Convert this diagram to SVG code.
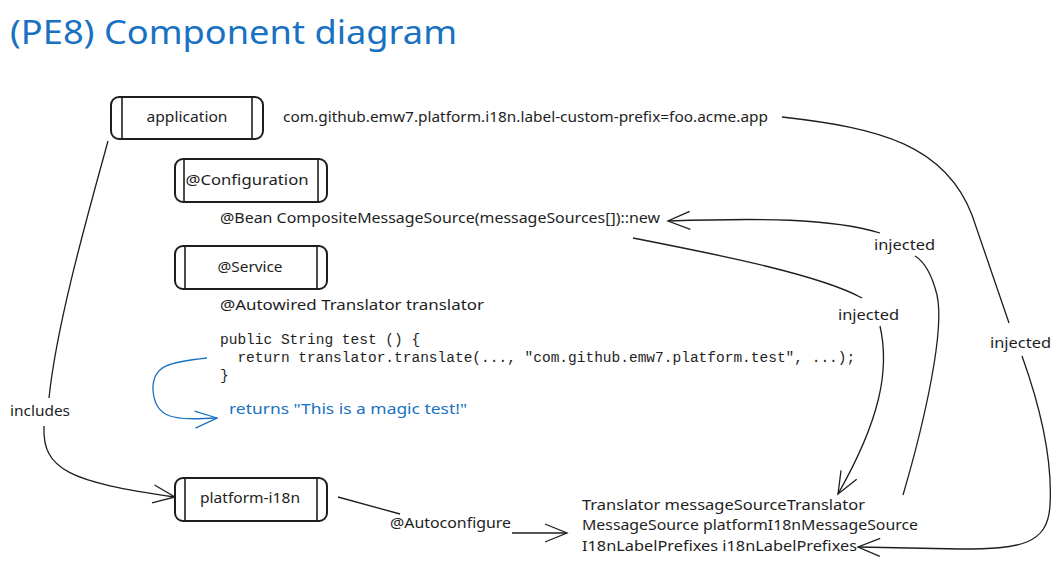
<svg xmlns="http://www.w3.org/2000/svg" width="1061" height="586" viewBox="0 0 1061 586">
<style>
.hand{font-family:"Noto Sans","Liberation Sans",sans-serif;font-size:15px;fill:#1e1e1e}
.code{font-family:"Liberation Mono","DejaVu Sans Mono",monospace;font-size:14.5px;fill:#1e1e1e}
.title{font-family:"Noto Sans","Liberation Sans",sans-serif;font-size:32px;fill:#1971c2}
.blue{fill:#1971c2}
.box{fill:#fff;stroke:#1e1e1e;stroke-width:2}
.bar{stroke:#1e1e1e;stroke-width:1.6}
.conn path{fill:none;stroke:#1e1e1e;stroke-width:1.3}
.conn path.b{stroke:#1971c2}
</style>
<defs>
<marker id="ah" markerUnits="userSpaceOnUse" markerWidth="30" markerHeight="30" refX="0" refY="0" viewBox="-25 -15 30 30" orient="auto" overflow="visible">
<path d="M-22,-9 L0,0 L-22,9" fill="none" stroke="#1e1e1e" stroke-width="1.3"/>
</marker>
<marker id="ahb" markerUnits="userSpaceOnUse" markerWidth="30" markerHeight="30" refX="0" refY="0" viewBox="-25 -15 30 30" orient="auto" overflow="visible">
<path d="M-22,-8 L0,0 L-22,9" fill="none" stroke="#1971c2" stroke-width="1.3"/>
</marker>
</defs>
<rect width="1061" height="586" fill="#fff"/>
<text class="title" x="10" y="44" textLength="447" lengthAdjust="spacingAndGlyphs">(PE8) Component diagram</text>

<g class="conn" id="connectors">
<path d="M108,141 C 92,200 57,320 49,398"/>
<path d="M44,426 C 42,470 70,482 175,497" marker-end="url(#ah)"/>
<path d="M338,497 L400,514"/>
<path d="M512,533 L567,533" marker-end="url(#ah)"/>
<path d="M782,117 C 880,128 945,145 972,215 L1009,323"/>
<path d="M1022,356 C 1045,420 1052,470 1050,505 C 1048,545 1020,549 960,549 L858,547" marker-end="url(#ah)"/>
<path d="M903,495 C 925,420 945,330 937,295 C 932,275 925,262 915,256"/>
<path d="M880,233 C 830,218 760,218 668,221" marker-end="url(#ah)"/>
<path d="M633,238 C 720,255 820,275 862,298"/>
<path d="M880,326 C 890,370 880,420 838,494" marker-end="url(#ah)"/>
<path class="b" d="M207,358 C 170,362 152,365 153,390 C 155,420 175,420 217,418" marker-end="url(#ahb)"/>
</g>

<g id="application">
<rect class="box" x="111" y="97" width="152" height="42" rx="8"/>
<line class="bar" x1="122" y1="97" x2="122" y2="139"/>
<line class="bar" x1="252" y1="97" x2="252" y2="139"/>
<text class="hand" x="187" y="122" text-anchor="middle" textLength="81" lengthAdjust="spacingAndGlyphs">application</text>
</g>
<g id="configuration">
<rect class="box" x="175" y="159" width="152" height="43" rx="8"/>
<line class="bar" x1="184" y1="159" x2="184" y2="202"/>
<line class="bar" x1="318" y1="159" x2="318" y2="202"/>
<text class="hand" x="247" y="185" text-anchor="middle" textLength="123" lengthAdjust="spacingAndGlyphs">@Configuration</text>
</g>
<g id="service">
<rect class="box" x="175" y="246" width="152" height="43" rx="8"/>
<line class="bar" x1="185" y1="246" x2="185" y2="289"/>
<line class="bar" x1="317" y1="246" x2="317" y2="289"/>
<text class="hand" x="250" y="272" text-anchor="middle" textLength="65" lengthAdjust="spacingAndGlyphs">@Service</text>
</g>
<g id="platform-i18n">
<rect class="box" x="175" y="478" width="152" height="43" rx="8"/>
<line class="bar" x1="185" y1="478" x2="185" y2="521"/>
<line class="bar" x1="317" y1="478" x2="317" y2="521"/>
<text class="hand" x="250" y="503" text-anchor="middle" textLength="100" lengthAdjust="spacingAndGlyphs">platform-i18n</text>
</g>

<g id="texts">
<text class="hand" x="283" y="122" textLength="485" lengthAdjust="spacingAndGlyphs">com.github.emw7.platform.i18n.label-custom-prefix=foo.acme.app</text>
<text class="hand" x="220" y="223" textLength="440" lengthAdjust="spacingAndGlyphs">@Bean CompositeMessageSource(messageSources[])::new</text>
<text class="hand" x="220" y="310" textLength="264" lengthAdjust="spacingAndGlyphs">@Autowired Translator translator</text>
<text class="code" x="220" y="344">public String test () {</text>
<text class="code" x="220" y="362" xml:space="preserve">  return translator.translate(..., "com.github.emw7.platform.test", ...);</text>
<text class="code" x="220" y="380">}</text>
<text class="hand blue" x="229" y="414" textLength="238" lengthAdjust="spacingAndGlyphs">returns "This is a magic test!"</text>
<text class="hand" x="10" y="416" textLength="60" lengthAdjust="spacingAndGlyphs">includes</text>
<text class="hand" x="390" y="528" textLength="121" lengthAdjust="spacingAndGlyphs">@Autoconfigure</text>
<text class="hand" x="874" y="250" textLength="61" lengthAdjust="spacingAndGlyphs">injected</text>
<text class="hand" x="838" y="320" textLength="61" lengthAdjust="spacingAndGlyphs">injected</text>
<text class="hand" x="990" y="348" textLength="61" lengthAdjust="spacingAndGlyphs">injected</text>
<text class="hand" x="582" y="510" textLength="283" lengthAdjust="spacingAndGlyphs">Translator messageSourceTranslator</text>
<text class="hand" x="582" y="530" textLength="336" lengthAdjust="spacingAndGlyphs">MessageSource platformI18nMessageSource</text>
<text class="hand" x="582" y="551" textLength="275" lengthAdjust="spacingAndGlyphs">I18nLabelPrefixes i18nLabelPrefixes</text>
</g>
</svg>
